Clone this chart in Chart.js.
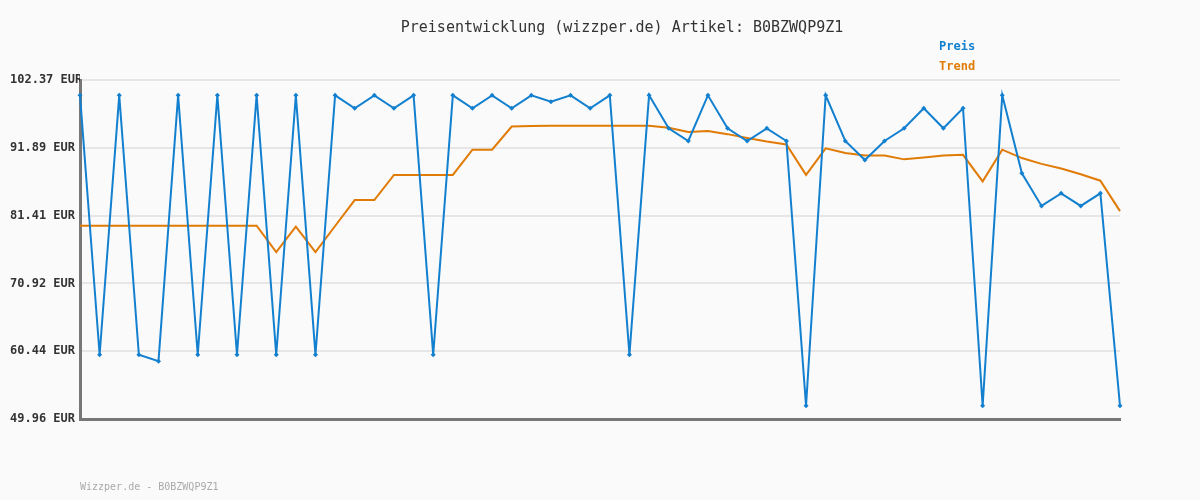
<!DOCTYPE html>
<html>
<head>
<meta charset="utf-8">
<script src="https://cdn.jsdelivr.net/npm/chart.js@4/dist/chart.umd.min.js"></script>
<style>
  html, body { margin: 0; padding: 0; background: #fafafa; }
  #wrap { width: 1200px; height: 500px; }
</style>
</head>
<body>
<div id="wrap"><canvas id="preisChart" width="1200" height="500"></canvas></div>
<script>
const titel = 'Preisentwicklung (wizzper.de) Artikel: B0BZWQP9Z1';
const fussnote = 'Wizzper.de - B0BZWQP9Z1';

const preis = [
  100, 59.9, 100, 59.9, 58.9, 100, 59.9, 100, 59.9, 100,
  59.9, 100, 59.9, 100, 98, 100, 98, 100, 59.9, 100,
  98, 100, 98, 100, 99, 100, 98, 100, 59.9, 100,
  94.9, 92.94, 100, 94.9, 92.94, 94.9, 92.94, 52, 100, 92.94,
  90, 92.94, 94.9, 98, 94.9, 98, 52, 100, 87.95, 82.9,
  84.85, 82.9, 84.85, 52
];

const trend = [
  79.84, 79.84, 79.84, 79.84, 79.84, 79.84, 79.84, 79.84, 79.84, 79.84,
  75.78, 79.7, 75.78, 79.8, 83.8, 83.8, 87.7, 87.7, 87.7, 87.7,
  91.6, 91.6, 95.17, 95.25, 95.3, 95.3, 95.3, 95.3, 95.3, 95.3,
  95.0, 94.35, 94.5, 94.0, 93.4, 92.86, 92.4, 87.7, 91.8, 91.1,
  90.7, 90.7, 90.1, 90.4, 90.7, 90.8, 86.7, 91.6, 90.3, 89.4,
  88.7, 87.8, 86.8, 82.1
];

const tage = preis.map((_, i) => i + 1);
const yTicks = [49.96, 60.44, 70.92, 81.41, 91.89, 102.37];
const yLabels = ['49.96 EUR', '60.44 EUR', '70.92 EUR', '81.41 EUR', '91.89 EUR', '102.37 EUR'];

const blau = '#1380cf';
const orange = '#e07b06';

const extras = {
    id: 'extras',
    beforeDraw(chart) {
        const c = chart.ctx;
        c.save();
        c.fillStyle = '#fafafa';
        c.fillRect(0, 0, chart.width, chart.height);
        c.restore();
    },
    afterDraw(chart) {
        const c = chart.ctx;
        c.save();
        c.textBaseline = 'middle';
        c.textAlign = 'center';
        c.fillStyle = '#333';
        c.font = '15px "DejaVu Sans Mono"';
        c.fillText(titel, 622, 28);

        c.textAlign = 'left';
        c.font = 'bold 12px "DejaVu Sans Mono"';
        c.fillStyle = blau;
        c.fillText('Preis', 939, 47);
        c.fillStyle = orange;
        c.fillText('Trend', 939, 67);

        c.font = '10px "DejaVu Sans Mono"';
        c.fillStyle = '#aaa';
        c.fillText(fussnote, 80, 487);
        c.restore();
    }
};

document.addEventListener('DOMContentLoaded', () => {
    const ctx = document.getElementById('preisChart').getContext('2d');

    new Chart(ctx, {
        type: 'line',
        data: {
            labels: tage,
            datasets: [
                {
                    label: 'Preis',
                    data: preis,
                    borderColor: blau,
                    backgroundColor: blau,
                    borderWidth: 2,
                    tension: 0,
                    pointStyle: 'rectRot',
                    pointRadius: 2.5,
                    pointBorderWidth: 0,
                    order: 1
                },
                {
                    label: 'Trend',
                    data: trend,
                    borderColor: orange,
                    borderWidth: 2,
                    tension: 0,
                    pointRadius: 0,
                    order: 2
                }
            ]
        },
        options: {
            responsive: false,
            animation: false,
            layout: {
                padding: { left: 10, right: 80, top: 80, bottom: 81 }
            },
            plugins: {
                legend: { display: false },
                title: { display: false },
                tooltip: { enabled: false }
            },
            scales: {
                x: {
                    offset: false,
                    grid: { display: false, drawTicks: false },
                    ticks: { display: false },
                    border: { display: true, color: '#777', width: 3 },
                    afterFit: scale => { scale.height = 0; }
                },
                y: {
                    min: 49.96,
                    max: 102.37,
                    afterFit: scale => { scale.width = 70; },
                    afterBuildTicks: scale => {
                        scale.ticks = yTicks.map(v => ({ value: v }));
                    },
                    grid: { color: '#e6e6e6', lineWidth: 2, drawTicks: false },
                    border: { display: true, color: '#777', width: 3 },
                    ticks: {
                        crossAlign: 'far',
                        padding: 0,
                        color: '#333',
                        font: { family: 'DejaVu Sans Mono', size: 12, weight: 'bold' },
                        callback: (v, i) => yLabels[i]
                    }
                }
            }
        },
        plugins: [extras]
    });
});
</script>
</body>
</html>
